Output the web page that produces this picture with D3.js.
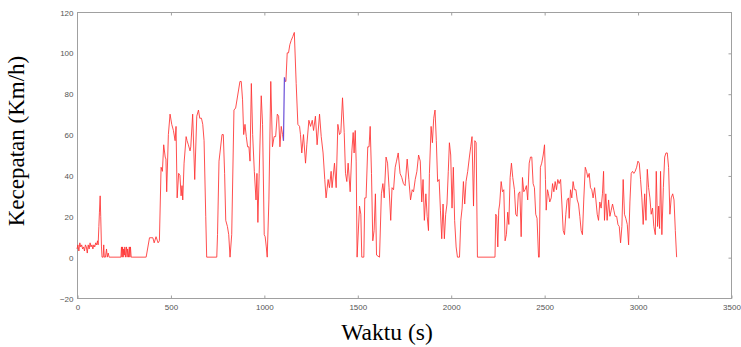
<!DOCTYPE html>
<html><head><meta charset="utf-8">
<script src="https://cdn.jsdelivr.net/npm/d3@7"></script>
<style>html,body{margin:0;padding:0;background:#fff;}svg{display:block;}</style>
</head><body>
<svg id="c" width="741" height="347"></svg>
<script>
const xTicks = [0,500,1000,1500,2000,2500,3000,3500];
const yTicks = [-20,0,20,40,60,80,100,120];
const xLabel = "Waktu (s)";
const yLabel = "Kecepatan (Km/h)";
// main speed trace [time s, speed km/h]
const speedRed = [
[0,4],[5,6],[10,3],[15,7],[20,5],[25,6],[30,4],[35,5],[40,3],[45,6],[50,5],[55,2],[60,6],[65,4],[70,7],[75,5],[80,6],[85,4],[90,6],[95,5],[100,7],[105,6],[110,8],[113,6],[117,15],[120,22],[124,30],[127,20],[131,5],[134,0],[140,0],[143,6],[146,0],[152,0],[158,4],[162,0],[167,2],[172,0],[235,0],[238,5],[241,0],[244,5],[247,0],[250,4],[253,1],[256,5],[259,0],[265,5],[268,0],[271,4],[276,0],[280,5],[283,0],[286,5],[290,0],[295,0],[365,0],
[370,0],[388,9.5],[406,9.5],[413,7],[423,10],[434,7],[441,8],[450,44],[457,42],[464,55],[472,49],[476,48],[480,32],[489,60],[498,70],[507,65],[516,62],[525,57],[530,64],[536,29],[544,41],[551,40],[557,30],[562,35],[566,28],[573,46],[584,59],[589,57],[596,55],[605,52],[609,54],[619,70],[630,38],[641,69],[650,72],[657,68],[666,68],[673,65],[680,57],[689,20],[694,0],[748,0],[752,11],[760,47],[765,51],[776,60],[783,60],[790,41],[796,18],[805,15],[812,11],[819,0],[828,11],[840,72],[849,73],[872,86],[879,86],[886,77],[892,60],[899,65],[906,59],[913,54],[920,54],[926,47],[933,85],[940,60],[949,42],[958,28],[963,41],[968,17],[975,41],[986,79],[993,65],[1002,11],[1007,10],[1013,5],[1018,0],[1027,28],[1037,86],[1046,54],[1055,59],[1063,59],[1072,70],[1079,69],[1086,54],[1093,64],[1100,60],[1105,57]
];
const speedBlue = [[1105,57],[1110,88],[1114,86]];
const speedRed2 = [
[1114,86],[1118,86],[1125,100],[1132,100],[1139,104],[1146,106],[1155,108],[1163,110],[1173,85],[1182,65],[1191,64],[1196,60],[1203,51],[1212,60],[1223,46],[1230,55],[1241,67],[1250,64],[1259,67],[1266,62],[1276,69],[1285,55],[1298,70],[1307,59],[1317,51],[1326,38],[1333,29],[1344,38],[1351,34],[1360,42],[1365,34],[1378,46],[1387,34],[1396,65],[1405,60],[1412,61],[1421,78],[1430,61],[1437,41],[1444,37],[1451,46],[1462,32],[1471,52],[1478,61],[1483,51],[1489,62],[1494,47],[1499,0],[1512,25],[1519,21],[1524,0],[1535,0],[1540,29],[1547,29],[1556,54],[1563,54],[1569,64],[1576,41],[1583,8],[1590,13],[1597,31],[1603,1],[1619,0],[1629,31],[1637,36],[1644,29],[1654,49],[1662,46],[1670,34],[1679,18],[1686,34],[1694,33],[1703,44],[1710,47],[1719,51],[1729,41],[1738,39],[1747,36],[1756,35],[1767,48],[1776,38],[1785,28],[1794,33],[1801,32],[1810,38],[1819,42],[1828,50],[1837,47],[1845,27],[1852,38],[1859,18],[1867,31],[1874,20],[1881,13],[1886,41],[1895,64],[1902,56],[1909,68],[1916,72],[1923,57],[1930,37],[1938,38],[1945,23],[1952,9],[1959,26],[1966,9],[1973,21],[1980,26],[1987,42],[1993,56],[2000,50],[2007,24],[2014,44],[2021,18],[2029,5],[2036,0],[2047,0],[2054,18],[2061,24],[2068,37],[2075,26],[2082,37],[2091,42],[2100,49],[2107,54],[2114,59],[2122,25],[2129,57],[2136,56],[2143,0],[2237,0],
[2241,21],[2246,20],[2252,5],[2257,23],[2262,26],[2270,37],[2277,32],[2284,33],[2291,8],[2298,11],[2305,22],[2311,16],[2318,39],[2325,46],[2332,39],[2341,33],[2348,21],[2355,20],[2362,31],[2370,32],[2377,10],[2384,39],[2391,32],[2398,33],[2405,35],[2412,28],[2420,46],[2427,49],[2434,49],[2441,36],[2448,34],[2455,21],[2462,19],[2470,0],[2474,0],[2480,44],[2487,46],[2495,50],[2502,55],[2507,38],[2511,23],[2518,33],[2523,31],[2530,27],[2538,29],[2545,36],[2552,32],[2559,37],[2566,33],[2573,38],[2580,36],[2588,38],[2595,26],[2602,13],[2609,11],[2616,21],[2623,28],[2630,29],[2634,19],[2641,33],[2648,29],[2655,37],[2662,33],[2670,33],[2677,28],[2684,26],[2691,20],[2698,13],[2705,11],[2712,28],[2720,44],[2727,42],[2734,39],[2741,41],[2748,34],[2755,33],[2762,29],[2770,34],[2777,28],[2784,21],[2791,18],[2798,27],[2805,24],[2812,31],[2818,42],[2823,18],[2830,31],[2837,18],[2845,28],[2852,20],[2859,23],[2866,26],[2873,23],[2880,20],[2888,20],[2895,16],[2902,15],[2909,7],[2916,15],[2923,38],[2930,21],[2937,19],[2945,16],[2952,6],[2959,27],[2966,41],[2973,42],[2980,41],[2987,42],[2995,44],[3002,47],[3009,46],[3016,38],[3023,29],[3030,16],[3038,31],[3045,18],[3052,43],[3059,34],[3066,29],[3073,21],[3080,24],[3087,15],[3095,11],[3100,42],[3107,15],[3113,25],[3118,14],[3123,42],[3130,11],[3138,34],[3145,49],[3152,51],[3159,51],[3166,44],[3173,21],[3180,29],[3188,31],[3195,28],[3202,13],[3209,0]
];

const svg = d3.select("#c");
const L = 77, R = 731, T = 12, B = 298;
const x = d3.scaleLinear().domain([0,3500]).range([L,R]);
const y = d3.scaleLinear().domain([-20,120]).range([B,T]);
const axisColor = "#a0a0a0";

// box
svg.append("rect").attr("x",L+0.5).attr("y",T+0.5).attr("width",R-L).attr("height",B-T)
  .attr("fill","none").attr("stroke",axisColor).attr("stroke-width",1);

const tickFont = "Liberation Sans, Arial, sans-serif";
// bottom axis
const gx = svg.append("g").attr("transform",`translate(0.5,${B+0.5})`)
  .call(d3.axisBottom(x).tickValues(xTicks).tickSizeInner(-3).tickSizeOuter(0).tickPadding(6).tickFormat(d3.format("d")));
gx.select(".domain").remove();
gx.selectAll("line").attr("stroke",axisColor);
gx.selectAll("text").attr("fill","#555").style("font-family",tickFont).style("font-size","8px");
// top ticks
const gxt = svg.append("g").attr("transform",`translate(0.5,${T+0.5})`)
  .call(d3.axisTop(x).tickValues(xTicks.slice(1,-1)).tickSizeInner(-3).tickSizeOuter(0).tickFormat(""));
gxt.select(".domain").remove();
gxt.selectAll("line").attr("stroke",axisColor);
// left axis labels
const gy = svg.append("g").attr("transform",`translate(${L+0.5},0.5)`)
  .call(d3.axisLeft(y).tickValues(yTicks).tickSize(0).tickPadding(4).tickFormat(d3.format("d")));
gy.select(".domain").remove();
gy.selectAll("text").attr("fill","#555").style("font-family",tickFont).style("font-size","8px");
// right ticks
const gyr = svg.append("g").attr("transform",`translate(${R+0.5},0.5)`)
  .call(d3.axisRight(y).tickValues(yTicks.slice(1,-1)).tickSizeInner(-3).tickSizeOuter(0).tickFormat(""));
gyr.select(".domain").remove();
gyr.selectAll("line").attr("stroke",axisColor);

const line = d3.line().x(d=>x(d[0])).y(d=>y(d[1]));
svg.append("path").datum(speedRed).attr("d",line).attr("fill","none").attr("stroke","#ff3030").attr("stroke-opacity",0.85).attr("stroke-width",1).attr("stroke-linejoin","round");
svg.append("path").datum(speedRed2).attr("d",line).attr("fill","none").attr("stroke","#ff3030").attr("stroke-opacity",0.85).attr("stroke-width",1).attr("stroke-linejoin","round");
svg.append("path").datum(speedBlue).attr("d",line).attr("fill","none").attr("stroke","#6a4fd8").attr("stroke-width",1.2);

// axis titles
svg.append("text").attr("x",387).attr("y",340).attr("text-anchor","middle")
  .style("font-family","Liberation Serif, Times New Roman, serif").style("font-size","23.5px").attr("fill","#000").text(xLabel);
svg.append("text").attr("transform","translate(24,141) rotate(-90)").attr("text-anchor","middle")
  .style("font-family","Liberation Serif, Times New Roman, serif").style("font-size","23px").attr("fill","#000").text(yLabel);
</script>
</body></html>
